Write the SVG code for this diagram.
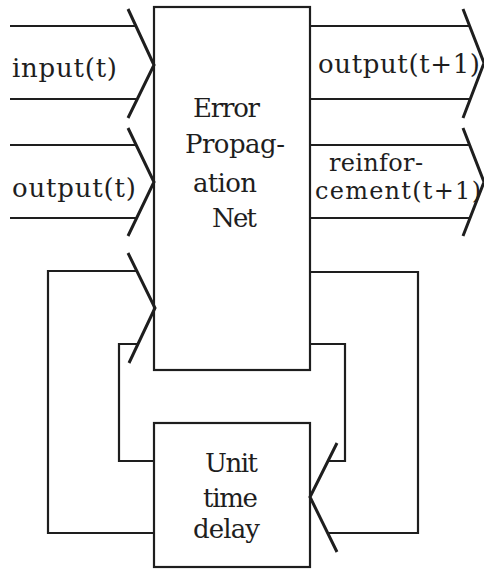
<svg xmlns="http://www.w3.org/2000/svg" width="484" height="569" viewBox="0 0 484 569">
<style>
.box{fill:none;stroke:#1e1e1e;stroke-width:2.2}
.ln{fill:none;stroke:#1e1e1e;stroke-width:2.2;stroke-linejoin:miter}
.chev{fill:none;stroke:#1e1e1e;stroke-width:3;stroke-linecap:butt}
text{font-family:"DejaVu Serif","Liberation Serif",serif;font-size:26px;fill:#1e1e1e}
.sm{font-size:24px}
</style>
<rect width="484" height="569" fill="#ffffff"/>
<g id="connectors">
  <path class="ln" d="M10,26 H136 M10,99 H136"/>
  <path class="chev" d="M128,9 L154,65 L128,118"/>
  <text x="12" y="77" textLength="105">input(t)</text>
  <path class="ln" d="M10,145 H136 M10,218 H136"/>
  <path class="chev" d="M128,128 L154,182 L128,236"/>
  <text x="12" y="197" textLength="124">output(t)</text>
  <path class="ln" d="M310,26 H470 M310,99 H470"/>
  <path class="chev" d="M463,9 L484,63 L463,118"/>
  <text x="318" y="73" textLength="162">output(t+1)</text>
  <path class="ln" d="M310,145 H470 M310,218 H470"/>
  <path class="chev" d="M463,128 L484,182 L463,236"/>
  <text class="sm" x="329" y="171" textLength="94">reinfor-</text>
  <text class="sm" x="315" y="199" textLength="166">cement(t+1)</text>
  <path class="ln" d="M154,533 H48 V271 H137"/>
  <path class="ln" d="M154,461 H119 V344 H137"/>
  <path class="chev" d="M128,253 L155,308 L129,363"/>
  <path class="ln" d="M310,272 H418 V533 H328"/>
  <path class="ln" d="M310,344 H345 V461 H328"/>
  <path class="chev" d="M337,443 L310,497 L337,552"/>
</g>
<g id="error-propagation-net">
  <rect class="box" x="154" y="7" width="156" height="363"/>
  <text x="193" y="117" textLength="67">Error</text>
  <text x="185" y="153" textLength="100">Propag-</text>
  <text x="193" y="192" textLength="64">ation</text>
  <text x="212" y="227" textLength="45">Net</text>
</g>
<g id="unit-time-delay">
  <rect class="box" x="154" y="423" width="156" height="144"/>
  <text x="205" y="472" textLength="53">Unit</text>
  <text x="203" y="507" textLength="55">time</text>
  <text x="193" y="538" textLength="67">delay</text>
</g>
</svg>
